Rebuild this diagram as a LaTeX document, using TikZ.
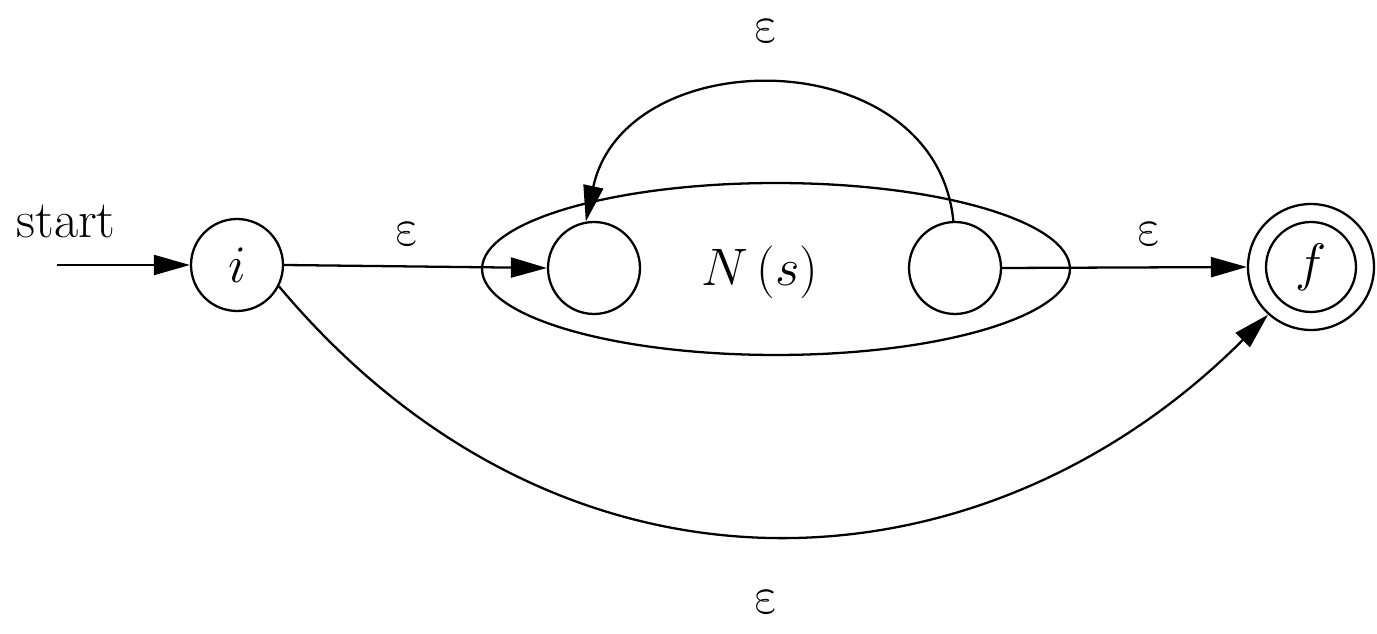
\RequirePackage{fix-cm}
\documentclass[tikz,border=0pt]{standalone}
\usetikzlibrary{arrows.meta,shapes.geometric}
\begin{document}
\begin{tikzpicture}[x=0.02cm,y=-0.02cm,
  line width=1.3pt,
  every node/.style={font=\fontsize{30}{36}\selectfont},
  state/.style={draw,circle,inner sep=0pt,minimum size=1.84cm},
  lbl/.style={inner sep=0pt},
  eps/.style={inner sep=0pt,anchor=base,transform shape},
  arr/.style={-{Triangle[length=0.72cm,width=0.4cm]}}]
\useasboundingbox (0,0) rectangle (1377,634);
% outer machine
\node[draw,ellipse,inner sep=0pt,minimum width=11.76cm,minimum height=3.44cm] (ns) at (776,269) {};
\node[lbl] (nslbl) at (760,272) {$N\,(s)$};
% states
\node[state] (i) at (237,265) {$i$};
\node[state] (l) at (594,268) {};
\node[state] (r) at (955,268) {};
\node[draw,circle,inner sep=0pt,minimum size=2.52cm] (f) at (1311,267) {};
\node[state,minimum size=1.8cm] (fin) at (1311,267) {$f$};
% start
\node[lbl,anchor=base] (st) at (66,238) {start};
\coordinate (s0) at (57,265);
\draw[arr] (s0) -- (i);
% edges
\draw[arr] (i.east) -- (l.west);
\draw[arr] (r.east) -- (f.west);
\draw[arr] (r.92) .. controls (935,40) and (625,40) .. (l.100);
\draw[arr] (i.-27) .. controls (564,626) and (983,600) .. (f.-132);
% labels (upright epsilon)
\begin{scope}[shift={(410,246)},xslant=-0.22]\node[eps] (e1) at (0,0) {$\varepsilon$};\end{scope}
\begin{scope}[shift={(1152,246)},xslant=-0.22]\node[eps] (e2) at (0,0) {$\varepsilon$};\end{scope}
\begin{scope}[shift={(769,43)},xslant=-0.22]\node[eps] (e3) at (0,0) {$\varepsilon$};\end{scope}
\begin{scope}[shift={(769,614)},xslant=-0.22]\node[eps] (e4) at (0,0) {$\varepsilon$};\end{scope}
\end{tikzpicture}
\end{document}
